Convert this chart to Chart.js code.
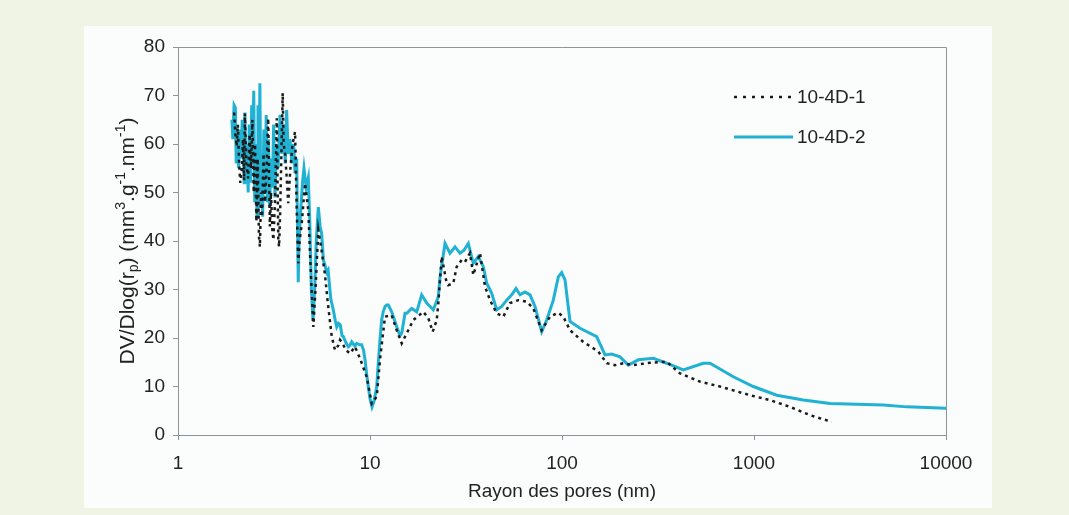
<!DOCTYPE html>
<html>
<head>
<meta charset="utf-8">
<script src="https://cdn.jsdelivr.net/npm/chart.js@4.4.1/dist/chart.umd.min.js"></script>
<style>
  html, body { margin: 0; padding: 0; background: #f0f4e4; }
  canvas { display: block; }
</style>
</head>
<body>
<canvas id="poreChart" width="1069" height="515"></canvas>
<script>
// Rayon des pores (nm) / DV/Dlog(rp)
const rayon1 = [1.96, 1.99, 2.02, 2.05, 2.08, 2.11, 2.15, 2.18, 2.21, 2.23, 2.27, 2.32, 2.36, 2.40, 2.44, 2.48, 2.52, 2.56, 2.60, 2.64,
  2.67, 2.71, 2.74, 2.79, 2.84, 2.90, 2.95, 3.01, 3.05, 3.10, 3.14, 3.20, 3.27, 3.33, 3.36, 3.40, 3.51, 3.55, 3.61, 3.68,
  3.75, 3.85, 3.95, 4.07, 4.10, 4.15, 4.23, 4.30, 4.41, 4.59, 4.77, 4.90, 5.07, 5.20, 5.38, 5.60, 5.83, 6.00, 6.32, 6.57,
  6.85, 6.98, 7.12, 7.50, 7.87, 8.35, 8.87, 9.61, 10.21, 10.84, 11.27, 11.97, 12.97, 13.78, 14.63, 15.83, 16.81, 18.95, 20.12, 21.21,
  22.26, 22.69, 23.63, 24.88, 25.58, 27.16, 28.29, 30.03, 31.24, 33.18, 34.51, 37.41, 39.72, 42.17, 45.7, 49.48, 53.6, 59.21, 65.48, 70.88,
  78.4, 86.6, 95.66, 101.6, 110.1, 129.1, 154.6, 171, 188.8, 208.6, 235.1, 287.3, 351.1, 411.8, 523.4, 665.3, 953, 1211, 1540, 1957, 2539];
const dv1 = [66.5, 62, 59.5, 64, 56, 52, 54.6, 61, 52.5, 66.3, 56, 52.9, 62, 55, 65, 50, 60, 44, 57, 41,
  38.8, 50, 45, 58, 48, 56, 65.3, 43, 50, 42.3, 40.2, 48, 65.3, 40.2, 38.8, 45, 70.5, 60, 58, 53.3,
  47.8, 55, 60, 62.5, 57.4, 47.1, 35.4, 40, 43.6, 51.9, 46.4, 35, 22.3, 30, 42.3, 38, 33, 28, 20.3, 17.5,
  18.5, 19.6, 19.2, 17.5, 16.8, 18.2, 15.8, 12, 6.5, 7.9, 15.5, 24.4, 24.7, 21.6, 18.9, 21.6, 23.7, 25.4, 24.1, 21.3,
  23.7, 27.2, 36.8, 32, 30.9, 31.3, 34.7, 36.1, 35.7, 37.5, 33, 37.5, 30.6, 27.8, 25.1, 24.4, 27.2, 27.8, 27.5, 26.1,
  21.6, 24.4, 25.2, 24.4, 21.6, 19.2, 17.2, 14.8, 14.4, 14.8, 14.4, 14.9, 15.1, 12.7, 11, 10, 8.2, 7.2, 5.8, 4.1, 2.7];

const rayon2 = [1.91, 1.93, 1.94, 1.96, 1.99, 2.01, 2.03, 2.04, 2.07, 2.10, 2.13, 2.16, 2.19, 2.21, 2.23, 2.26, 2.29, 2.32, 2.35, 2.39,
  2.42, 2.45, 2.48, 2.51, 2.55, 2.58, 2.61, 2.64, 2.67, 2.70, 2.73, 2.76, 2.80, 2.84, 2.88, 2.92, 2.96, 3.00, 3.05, 3.10,
  3.15, 3.20, 3.26, 3.32, 3.40, 3.47, 3.55, 3.62, 3.68, 3.75, 3.83, 3.92, 4.00, 4.07, 4.15, 4.23, 4.27, 4.35, 4.45, 4.53,
  4.65, 4.77, 4.85, 4.95, 5.05, 5.15, 5.25, 5.38, 5.50, 5.60, 5.72, 5.83, 5.95, 6.05, 6.25, 6.44, 6.60, 6.71, 6.85, 7.00,
  7.15, 7.26, 7.50, 7.71, 7.87, 8.03, 8.35, 8.53, 8.87, 9.05, 9.25, 9.42, 9.61, 9.80, 10.0, 10.25, 10.5, 10.84, 11.05, 11.27,
  11.50, 11.73, 12.0, 12.22, 12.46, 12.97, 13.78, 14.33, 14.63, 15.22, 15.53, 16.49, 17.51, 18.59, 19.74, 21.37, 22.69, 23.16, 24.59, 26.1,
  27.71, 29.43, 30.87, 32.51, 34.51, 36.66, 38.92, 40.54, 43.05, 45.7, 48.53, 51.52, 54.7, 57.6, 60.43, 64.16, 68.13, 72.34, 78.4, 83.23,
  90.11, 95.66, 99.6, 103.7, 110.1, 124.1, 151.6, 167.5, 181.5, 200.5, 221.4, 249.7, 298.9, 351.1, 428.4, 544.5, 590, 780, 991.7, 1313,
  1806, 2488, 4715, 6242, 10000];
const dv2 = [65, 61, 64, 68, 67.5, 56, 60, 62, 55, 63, 57, 65, 59, 52, 66.5, 54, 60, 50, 64, 52,
  68, 56, 71, 48, 60, 45, 68, 50, 72.5, 47, 58, 45, 63, 50, 66, 48, 61, 47, 57, 51,
  64, 49, 60, 55, 66, 58, 64, 56, 67, 58, 61, 56, 60, 54, 57, 31.5, 40, 46, 52, 55,
  51, 53, 45, 30, 23.5, 30, 40, 47, 43, 41.5, 36, 35, 33.5, 34, 28, 25.8, 23.5, 22.3, 23, 22.7,
  20.5, 20.3, 19, 18.2, 18.5, 19.2, 18.3, 18.9, 18.6, 18.6, 17.5, 15.5, 12.5, 10, 7.5, 5.8, 7, 10, 15, 19.6,
  23.7, 25.5, 26.5, 26.8, 26.8, 25.4, 22.3, 20.5, 21, 25.1, 25.1, 26.1, 25.4, 28.9, 27.2, 25.8, 28.5, 32.6, 39.5, 37.5,
  38.8, 37.5, 38.1, 39.5, 35.4, 36.8, 34.7, 31.3, 29.2, 25.8, 26.5, 27.8, 28.9, 30.2, 28.9, 29.5, 28.9, 26.5, 21.3, 23.7,
  27.8, 32.6, 33.5, 32, 23.4, 22, 20.3, 16.5, 16.7, 16.1, 14.4, 15.5, 15.8, 14.8, 13.4, 14.8, 14.8, 12, 10, 8.2,
  7.2, 6.5, 6.2, 5.8, 5.5];

const seriesNames = ['10-4D-1', '10-4D-2'];
const xTicks = [1, 10, 100, 1000, 10000];
const xTitle = 'Rayon des pores (nm)';
// titre de l'axe Y en morceaux : [texte, 'n' normal | 'sub' | 'sup']
const yTitleParts = [['DV/Dlog(r', 'n'], ['p', 'sub'], [') (mm', 'n'], ['3', 'sup'], ['.g', 'n'], ['-1', 'sup'], ['.nm', 'n'], ['-1', 'sup'], [')', 'n']];

const FONT = '"Liberation Sans", Arial, sans-serif';
const AXIS_COLOR = '#8c969a';

function toPoints(xs, ys) {
  return xs.map((x, i) => ({ x: x, y: ys[i] }));
}

// fond vert pâle + panneau blanc, cadre du graphique
const panelPlugin = {
  id: 'panel',
  beforeDraw(chart) {
    const ctx = chart.ctx;
    ctx.save();
    ctx.fillStyle = '#f0f4e4';
    ctx.fillRect(0, 0, chart.width, chart.height);
    ctx.fillStyle = '#fbfdfd';
    ctx.fillRect(84, 26, 908, 482);
    ctx.restore();
  },
  afterDraw(chart) {
    const a = chart.chartArea;
    const ctx = chart.ctx;
    ctx.save();
    ctx.strokeStyle = AXIS_COLOR;
    ctx.lineWidth = 1;
    ctx.beginPath();
    ctx.moveTo(a.left, a.top + 0.5);
    ctx.lineTo(a.right + 0.5, a.top + 0.5);
    ctx.lineTo(a.right + 0.5, a.bottom);
    ctx.stroke();
    ctx.restore();
  }
};

// titre Y avec indice et exposants
const yTitlePlugin = {
  id: 'yTitle',
  afterDraw(chart) {
    const ctx = chart.ctx;
    const a = chart.chartArea;
    const size = 21, small = 14;
    ctx.save();
    let total = 0;
    yTitleParts.forEach(([t, k]) => {
      ctx.font = (k === 'n' ? size : small) + 'px ' + FONT;
      total += ctx.measureText(t).width;
    });
    ctx.translate(134, (a.top + a.bottom) / 2);
    ctx.rotate(-Math.PI / 2);
    ctx.fillStyle = '#222';
    ctx.textBaseline = 'alphabetic';
    let x = -total / 2;
    yTitleParts.forEach(([t, k]) => {
      ctx.font = (k === 'n' ? size : small) + 'px ' + FONT;
      const dy = k === 'sub' ? 4 : (k === 'sup' ? -9 : 0);
      ctx.fillText(t, x, dy);
      x += ctx.measureText(t).width;
    });
    ctx.restore();
  }
};

// légende dessinée à la main (traits + libellés)
const legendPlugin = {
  id: 'customLegend',
  afterDraw(chart) {
    const ctx = chart.ctx;
    ctx.save();
    chart.data.datasets.forEach((ds, i) => {
      const y = 97 + i * 40;
      ctx.strokeStyle = ds.borderColor;
      ctx.lineWidth = ds.borderWidth;
      ctx.setLineDash(i === 0 ? [3, 6] : []);
      ctx.beginPath();
      ctx.moveTo(734, y);
      ctx.lineTo(793, y);
      ctx.stroke();
      ctx.setLineDash([]);
      ctx.fillStyle = '#222';
      ctx.font = '19px ' + FONT;
      ctx.textBaseline = 'middle';
      ctx.fillText(ds.label, 797, y + 1);
    });
    ctx.restore();
  }
};

const ctx = document.getElementById('poreChart').getContext('2d');
new Chart(ctx, {
  type: 'line',
  data: {
    datasets: [
      {
        label: seriesNames[0],
        data: toPoints(rayon1, dv1),
        borderColor: '#1a1a1a',
        borderWidth: 2.5,
        borderDash: [3, 4],
        pointRadius: 0,
        tension: 0,
        fill: false
      },
      {
        label: seriesNames[1],
        data: toPoints(rayon2, dv2),
        borderColor: '#20b1d3',
        borderWidth: 3,
        pointRadius: 0,
        tension: 0,
        fill: false
      }
    ]
  },
  options: {
    responsive: false,
    animation: false,
    layout: { padding: { left: 0, top: 47, right: 123, bottom: 0 } },
    plugins: {
      legend: { display: false },
      tooltip: { enabled: false }
    },
    scales: {
      x: {
        type: 'logarithmic',
        min: 1,
        max: 10000,
        afterBuildTicks(scale) {
          scale.ticks = xTicks.map(v => ({ value: v }));
        },
        afterFit(scale) { scale.height = 80; },
        border: { color: AXIS_COLOR, width: 1 },
        grid: { drawOnChartArea: false, drawTicks: true, tickLength: 5, color: AXIS_COLOR },
        ticks: {
          color: '#222',
          font: { family: FONT, size: 19 },
          padding: 12,
          maxRotation: 0,
          autoSkip: false,
          callback: v => String(v)
        },
        title: {
          display: true,
          text: xTitle,
          color: '#222',
          font: { family: FONT, size: 19 },
          padding: { top: 0, bottom: 12 }
        }
      },
      y: {
        min: 0,
        max: 80,
        afterFit(scale) { scale.width = 178; },
        border: { color: AXIS_COLOR, width: 1 },
        grid: { drawOnChartArea: false, drawTicks: true, tickLength: 5, color: AXIS_COLOR },
        ticks: {
          stepSize: 10,
          color: '#222',
          font: { family: FONT, size: 19 },
          padding: 8
        }
      }
    }
  },
  plugins: [panelPlugin, yTitlePlugin, legendPlugin]
});
</script>
</body>
</html>
